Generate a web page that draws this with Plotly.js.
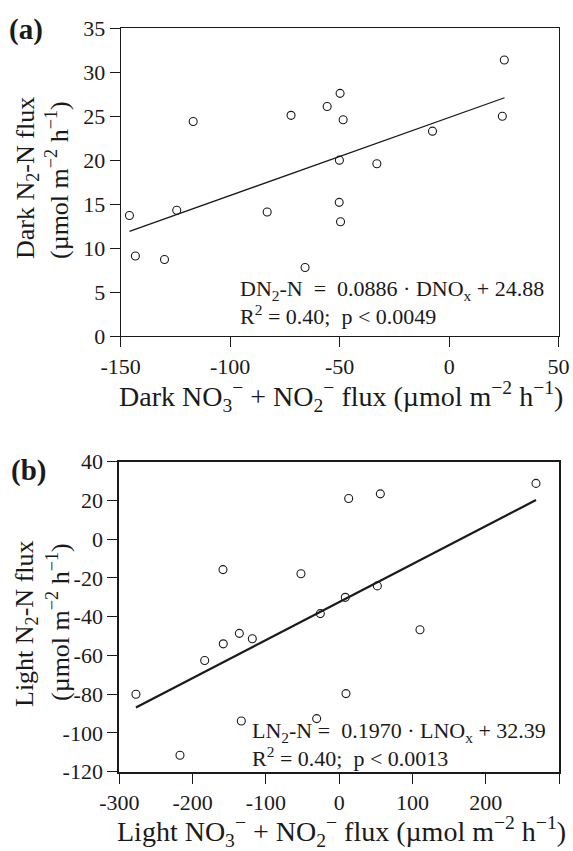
<!DOCTYPE html>
<html>
<head>
<meta charset="utf-8">
<script src="https://cdn.plot.ly/plotly-3.0.1.min.js"></script>
<style>html,body{margin:0;padding:0;background:#fff;}#chart{width:573px;height:851px;}</style>
</head>
<body>
<div id="chart"></div>
<script>
// Panel (a): dark fluxes
const darkNOx = [-146.0, -143.3, -130.0, -124.4, -116.9, -83.1, -72.2, -65.8, -55.7, -49.8, -48.4, -50.1, -50.2, -49.6, -33.0, -7.6, 25.2, 24.3];
const darkN2  = [13.7, 9.1, 8.7, 14.3, 24.4, 14.1, 25.1, 7.8, 26.1, 27.6, 24.6, 20.0, 15.2, 13.0, 19.6, 23.3, 31.4, 25.0];
const darkFitX = [-146.0, 25.3];
const darkFitY = [11.9, 27.1];
// Panel (b): light fluxes
const lightNOx = [-277.3, -183.5, -158.1, -158.5, -136.2, -118.5, -52.1, -25.7, 8.4, 13.0, 56.2, 52.1, 110.3, 9.3, 268.6, -133.5, -30.7, -217.2];
const lightN2  = [-80.0, -62.6, -54.0, -15.7, -48.6, -51.4, -17.8, -38.4, -30.0, 21.0, 23.4, -24.1, -46.7, -79.7, 28.8, -93.8, -92.6, -111.5];
const lightFitX = [-277.3, 268.6];
const lightFitY = [-86.9, 20.2];
// Tick labels
const xTicksA = [-150, -100, -50, 0, 50];
const xTickTextA = ['-150', '-100', '-50', '0', '50'];
const yTicksA = [0, 5, 10, 15, 20, 25, 30, 35];
const yTickTextA = ['0', '5', '10', '15', '20', '25', '30', '35'];
const xTicksB = [-300, -200, -100, 0, 100, 200, 300];
const xTickTextB = ['-300', '-200', '-100', '0', '100', '200', '300'];
const yTicksB = [-120, -100, -80, -60, -40, -20, 0, 20, 40];
const yTickTextB = ['-120', '-100', '-80', '-60', '-40', '-20', '0', '20', '40'];
// Texts
const xTitleA = 'Dark NO<sub>3</sub><sup>\u2212</sup> + NO<sub>2</sub><sup>\u2212</sup> flux (\u00b5mol m<sup>\u22122</sup> h<sup>\u22121</sup>)';
const xTitleB = 'Light NO<sub>3</sub><sup>\u2212</sup> + NO<sub>2</sub><sup>\u2212</sup> flux (\u00b5mol m<sup>\u22122</sup> h<sup>\u22121</sup>)';
const yTitleA = ['Dark N<sub>2</sub>-N flux', '(\u00b5mol m<sup>\u22122</sup> h<sup>\u22121</sup>)'];
const yTitleB = ['Light N<sub>2</sub>-N flux', '(\u00b5mol m<sup>\u22122</sup> h<sup>\u22121</sup>)'];
const eqA = ['DN<sub>2</sub>-N\u00a0 =\u00a0 0.0886 \u00b7 DNO<sub>x</sub> + 24.88', 'R<sup>2</sup> = 0.40;\u00a0 p < 0.0049'];
const eqB = ['LN<sub>2</sub>-N\u00a0=\u00a0 0.1970 \u00b7 LNO<sub>x</sub> + 32.39', 'R<sup>2</sup> = 0.40;\u00a0 p < 0.0013'];

const FONT = 'Liberation Serif, Times New Roman, serif';
const INK = '#1a1a1a';
const marker = {symbol: 'circle-open', size: 8, color: INK, line: {width: 1.1, color: INK}};

const traces = [
  {x: darkNOx, y: darkN2, type: 'scatter', mode: 'markers', marker: marker, xaxis: 'x', yaxis: 'y', showlegend: false},
  {x: darkFitX, y: darkFitY, type: 'scatter', mode: 'lines', line: {color: INK, width: 1.3}, xaxis: 'x', yaxis: 'y', showlegend: false},
  {x: lightNOx, y: lightN2, type: 'scatter', mode: 'markers', marker: marker, xaxis: 'x2', yaxis: 'y2', showlegend: false},
  {x: lightFitX, y: lightFitY, type: 'scatter', mode: 'lines', line: {color: INK, width: 2.2}, xaxis: 'x2', yaxis: 'y2', showlegend: false}
];

function axis(extra) {
  return Object.assign({
    showgrid: false, zeroline: false, showline: true, mirror: true,
    linecolor: INK, ticks: 'outside', ticklen: 10, tickwidth: 1.2, tickcolor: INK,
    tickfont: {family: FONT, size: 22, color: INK}, tickmode: 'array',
    automargin: false, fixedrange: true
  }, extra);
}

const W = 573, H = 851;
const xd = [120.7 / W, 558.6 / W];
const xd2 = [119.3 / W, 559.0 / W];
const yd = [(H - 336) / H, (H - 28.3) / H];
const yd2 = [(H - 771.7) / H, (H - 461.7) / H];

function paperText(text, px, py, size, angle, anchorX) {
  return {xref: 'paper', yref: 'paper', x: px / W, y: 1 - py / H, xanchor: anchorX || 'center', yanchor: 'middle',
    showarrow: false, text: text, textangle: angle || 0, font: {family: FONT, size: size, color: INK}};
}
function dataText(text, xr, yr, x, y) {
  return {xref: xr, yref: yr, x: x, y: y, xanchor: 'left', yanchor: 'middle', showarrow: false,
    text: text, font: {family: FONT, size: 22, color: INK}};
}

const layout = {
  width: W, height: H,
  margin: {l: 0, r: 0, t: 0, b: 0},
  paper_bgcolor: '#fff', plot_bgcolor: '#fff',
  font: {family: FONT, color: INK},
  xaxis: axis({domain: xd, range: [-150, 50], tickvals: xTicksA, ticktext: xTickTextA, linewidth: 1.3, anchor: 'y'}),
  yaxis: axis({domain: yd, range: [0, 35], tickvals: yTicksA, ticktext: yTickTextA, linewidth: 1.3, anchor: 'x'}),
  xaxis2: axis({domain: xd2, range: [-300, 300], tickvals: xTicksB, ticktext: xTickTextB, linewidth: 2, anchor: 'y2'}),
  yaxis2: axis({domain: yd2, range: [-120, 40], tickvals: yTicksB, ticktext: yTickTextB, linewidth: 2, anchor: 'x2'}),
  annotations: [
    paperText('<b>(a)</b>', 7, 29, 29, 0, 'left'),
    paperText('<b>(b)</b>', 9, 470, 29, 0, 'left'),
    paperText(xTitleA, 341, 397, 28),
    paperText(xTitleB, 341, 831, 28),
    paperText(yTitleA[0], 27, 178, 26, -90),
    paperText(yTitleA[1], 58, 180, 26, -90),
    paperText(yTitleB[0], 26, 624, 26, -90),
    paperText(yTitleB[1], 58, 622, 26, -90),
    dataText(eqA[0], 'x', 'y', -96.4, 5.23),
    dataText(eqA[1], 'x', 'y', -96.4, 2.39),
    dataText(eqB[0], 'x2', 'y2', -121.7, -99.5),
    dataText(eqB[1], 'x2', 'y2', -121.7, -112.4)
  ]
};

Plotly.newPlot('chart', traces, layout, {displayModeBar: false});
</script>
</body>
</html>
